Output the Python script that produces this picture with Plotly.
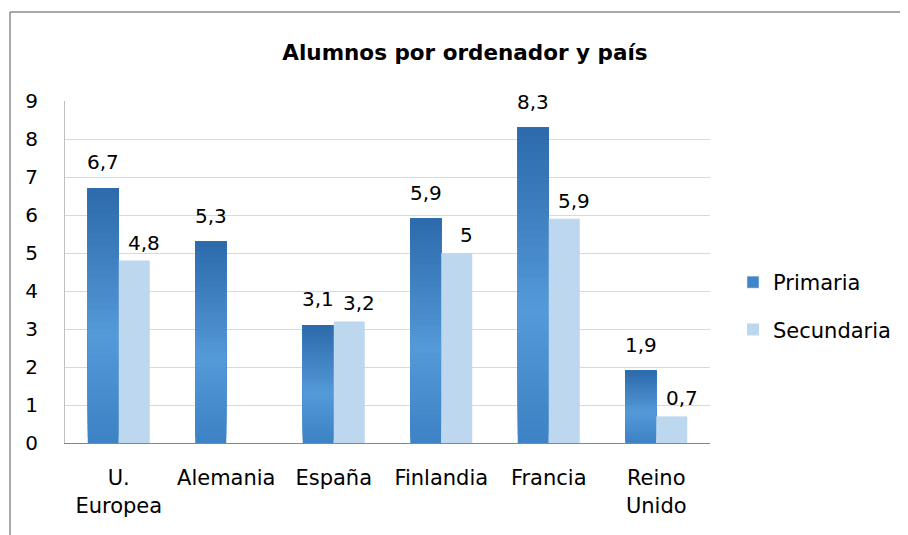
import plotly.graph_objects as go

categories = ["U.<br>Europea", "Alemania", "España", "Finlandia", "Francia", "Reino<br>Unido"]
primaria = [6.7, 5.3, 3.1, 5.9, 8.3, 1.9]
secundaria = [4.8, None, 3.2, 5.0, 5.9, 0.7]
series_names = ["Primaria", "Secundaria"]
title_text = "Alumnos por ordenador y país"
y_ticks = [0, 1, 2, 3, 4, 5, 6, 7, 8, 9]

FONT = "'DejaVu Sans', sans-serif"
FS = 20
N_SLICES = 40

def fmt(v):
    if v is None:
        return ""
    return f"{v:g}".replace(".", ",")

def hex_to_rgb(h):
    h = h.lstrip("#")
    return tuple(int(h[i:i + 2], 16) for i in (0, 2, 4))

stops = [(0.0, "#3C82C4"), (0.42, "#5499D8"), (1.0, "#2C6AAB")]

def grad_color(f):
    for (f0, c0), (f1, c1) in zip(stops[:-1], stops[1:]):
        if f0 <= f <= f1:
            t = (f - f0) / (f1 - f0)
            a, b = hex_to_rgb(c0), hex_to_rgb(c1)
            return "rgb(%d,%d,%d)" % tuple(round(a[k] + (b[k] - a[k]) * t) for k in range(3))
    return stops[-1][1]

fig = go.Figure()

# Primaria: vertical gradient, each layer starts higher and reaches the bar top
for i in range(N_SLICES):
    f = (i + 0.5) / N_SLICES
    fig.add_trace(go.Bar(
        x=categories,
        y=[v * (N_SLICES - i) / N_SLICES for v in primaria],
        base=[v * i / N_SLICES for v in primaria],
        marker=dict(color=grad_color(f), line=dict(width=0)),
        offsetgroup="p",
        showlegend=False,
        hoverinfo="skip",
    ))

# legend proxy for Primaria
fig.add_trace(go.Bar(
    x=[categories[0]], y=[None], name=series_names[0],
    marker=dict(color="#3F86C8"), offsetgroup="p", legendgroup="p",
    showlegend=True,
))

fig.add_trace(go.Bar(
    x=categories, y=secundaria, name=series_names[1],
    marker=dict(color="#BDD7EE", line=dict(width=0)),
    offsetgroup="s", legendgroup="s",
))

W, H = 900, 527
L, T = 57, 93
pw, ph = 645, 342
R, B = W - L - pw, H - T - ph

# data labels (Excel-style placement: Secundaria labels nudged right/lower)
bar_px = pw / len(categories) * (1 - 0.423) / 2
annotations = []
for cat, vp, vs in zip(categories, primaria, secundaria):
    for v, sh, ysh in ((vp, -bar_px / 2, 12), (vs, bar_px / 2 + 10, 4)):
        if v is None:
            continue
        annotations.append(dict(x=cat, y=v, xref="x", yref="y", text=fmt(v),
                                showarrow=False, xanchor="center", yanchor="bottom",
                                xshift=sh, yshift=ysh,
                                font=dict(size=FS, family=FONT, color="#000000")))

def px_x(p):
    return (p - L) / pw

def px_y(p):
    return (H - B - p) / ph

fig.update_layout(
    width=W, height=H,
    margin=dict(l=L, r=R, t=T, b=B, pad=0),
    paper_bgcolor="white", plot_bgcolor="white",
    barmode="group", bargap=0.423, bargroupgap=0,
    font=dict(family=FONT, size=FS, color="#000000"),
    title=dict(text="<b>" + title_text + "</b>", x=457 / W, xref="container",
               xanchor="center", y=1 - 44 / H, yref="container", yanchor="middle",
               font=dict(size=21.5, family=FONT, color="#000000")),
    xaxis=dict(showline=True, linecolor="#868686", linewidth=1, showgrid=False,
               ticks="", tickfont=dict(size=21), ticklabelstandoff=16),
    yaxis=dict(range=[0, 9], tickvals=y_ticks, showgrid=True, gridcolor="#D9D9D9",
               gridwidth=1, showline=True, linecolor="#BFBFBF", linewidth=1,
               zeroline=False, ticks="", tickfont=dict(size=FS), ticklabelstandoff=22),
    legend=dict(x=px_x(725), y=px_y(254), xanchor="left", yanchor="top",
                font=dict(size=21), tracegroupgap=17, traceorder="grouped",
                itemwidth=30, bgcolor="rgba(0,0,0,0)"),
    showlegend=True,
    annotations=annotations,
    shapes=[
        dict(type="line", xref="paper", yref="paper", x0=px_x(2), x1=px_x(1000),
             y0=px_y(4), y1=px_y(4), line=dict(color="#8C8C8C", width=1.5)),
        dict(type="line", xref="paper", yref="paper", x0=px_x(2), x1=px_x(2),
             y0=px_y(4), y1=px_y(700), line=dict(color="#8C8C8C", width=1.5)),
    ],
)

fig.write_html("out.html")
